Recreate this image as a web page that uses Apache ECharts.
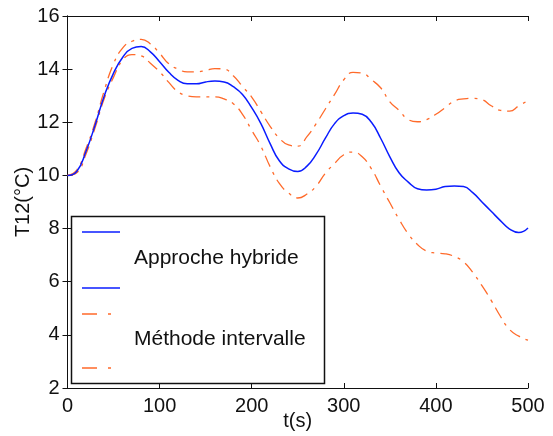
<!DOCTYPE html>
<html>
<head>
<meta charset="utf-8">
<script src="https://cdn.jsdelivr.net/npm/echarts@6/dist/echarts.min.js"></script>
<style>
html,body{margin:0;padding:0;background:#fff;}
#chart{width:553px;height:436px;}
</style>
</head>
<body>
<div id="chart"></div>
<script>
var times = [0,10,20,30,40,50,60,70,80,90,100,110,120,130,140,150,160,170,180,190,200,210,220,230,240,250,260,270,280,290,300,310,320,330,340,350,360,370,380,390,400,410,420,430,440,450,460,470,480,490,500];
var hybride = [10.0,10.15,10.9,11.9,13.0,13.85,14.45,14.78,14.85,14.65,14.28,13.88,13.58,13.45,13.45,13.52,13.55,13.52,13.34,13.05,12.55,11.95,11.2,10.55,10.25,10.15,10.35,10.8,11.4,11.95,12.25,12.35,12.3,12.0,11.4,10.7,10.1,9.75,9.5,9.45,9.48,9.58,9.6,9.58,9.35,9.0,8.65,8.3,7.98,7.85,8.02];
var intervalleHaut = [10.0,10.2,11.0,12.0,13.2,14.2,14.8,15.05,15.12,14.95,14.6,14.2,14.0,13.9,13.9,13.95,14.02,14.0,13.75,13.35,12.95,12.4,11.85,11.4,11.15,11.1,11.46,11.95,12.5,13.05,13.6,13.88,13.85,13.6,13.3,12.77,12.45,12.1,12.02,12.1,12.3,12.55,12.8,12.88,12.9,12.85,12.62,12.45,12.42,12.62,12.82];
var intervalleBas = [10.0,10.1,10.8,11.8,12.9,13.7,14.35,14.55,14.5,14.22,13.9,13.5,13.15,13.0,12.96,12.96,12.96,12.88,12.7,12.3,11.7,11.1,10.33,9.7,9.34,9.15,9.3,9.6,10.08,10.45,10.78,10.88,10.7,10.25,9.6,8.97,8.35,7.8,7.4,7.15,7.08,7.05,6.95,6.75,6.35,5.85,5.3,4.7,4.2,3.95,3.8];
var legendLabels = ['Approche hybride','Méthode intervalle'];
var xTitle = 't(s)';
var yTitle = 'T12(°C)';

function pairs(arr){ return times.map(function(t,i){ return [t, arr[i]]; }); }

var FONT = 'Liberation Sans, Arial, sans-serif';
var BLUE = '#0a1cff';
var ORANGE = '#ff6a2a';
var DASH = [12,6,3,6];

var chart = echarts.init(document.getElementById('chart'), null, {renderer:'canvas'});
var axisCommon = {
  axisLine:{show:true, lineStyle:{color:'#111', width:1}},
  axisTick:{show:true, inside:true, length:5, lineStyle:{color:'#111', width:1}},
  splitLine:{show:false}
};
chart.setOption({
  animation:false,
  backgroundColor:'#fff',
  grid:{left:67.5, right:25, top:16, bottom:48, containLabel:false},
  xAxis:[
    Object.assign({type:'value', position:'bottom', min:0, max:500, interval:100,
      name:xTitle, nameLocation:'middle', nameGap:23, nameMoveOverlap:false,
      nameTextStyle:{fontFamily:FONT, fontSize:20, color:'#111'},
      axisLabel:{fontFamily:FONT, fontSize:20, color:'#111', margin:8}}, axisCommon),
    Object.assign({type:'value', position:'top', min:0, max:500, interval:100,
      axisLabel:{show:false}}, axisCommon)
  ],
  yAxis:[
    Object.assign({type:'value', position:'left', min:2, max:16, interval:2,
      name:yTitle, nameLocation:'middle', nameGap:34, nameRotate:90, nameMoveOverlap:false,
      nameTextStyle:{fontFamily:FONT, fontSize:20, color:'#111'},
      axisLabel:{fontFamily:FONT, fontSize:20, color:'#111', margin:8}}, axisCommon),
    Object.assign({type:'value', position:'right', min:2, max:16, interval:2,
      axisLabel:{show:false}}, axisCommon)
  ],
  series:[
    {type:'line', name:'Approche hybride', data:pairs(hybride), smooth:true, symbol:'none',
      lineStyle:{color:BLUE, width:1.5}, z:3},
    {type:'line', name:'Méthode intervalle', data:pairs(intervalleHaut), smooth:true, symbol:'none',
      lineStyle:{color:ORANGE, width:1.3, type:DASH}, z:2},
    {type:'line', name:'Méthode intervalle', data:pairs(intervalleBas), smooth:true, symbol:'none',
      lineStyle:{color:ORANGE, width:1.3, type:DASH}, z:2}
  ],
  graphic:[
    {type:'rect', shape:{x:71.5, y:216.5, width:253, height:167}, style:{fill:'#fff', stroke:'#111', lineWidth:1.5}, z:10},
    {type:'line', shape:{x1:82, y1:232, x2:120, y2:232}, style:{stroke:BLUE, lineWidth:1.5}, z:11},
    {type:'text', left:134, top:248, style:{text:legendLabels[0], font:'21px '+FONT, fill:'#111'}, z:11},
    {type:'line', shape:{x1:82, y1:288, x2:120, y2:288}, style:{stroke:BLUE, lineWidth:1.5}, z:11},
    {type:'line', shape:{x1:82, y1:314, x2:120, y2:314}, style:{stroke:ORANGE, lineWidth:1.3, lineDash:[15,11,3,20]}, z:11},
    {type:'text', left:134, top:329, style:{text:legendLabels[1], font:'21px '+FONT, fill:'#111'}, z:11},
    {type:'line', shape:{x1:82, y1:368, x2:120, y2:368}, style:{stroke:ORANGE, lineWidth:1.3, lineDash:[15,11,3,20]}, z:11}
  ]
});
</script>
</body>
</html>
